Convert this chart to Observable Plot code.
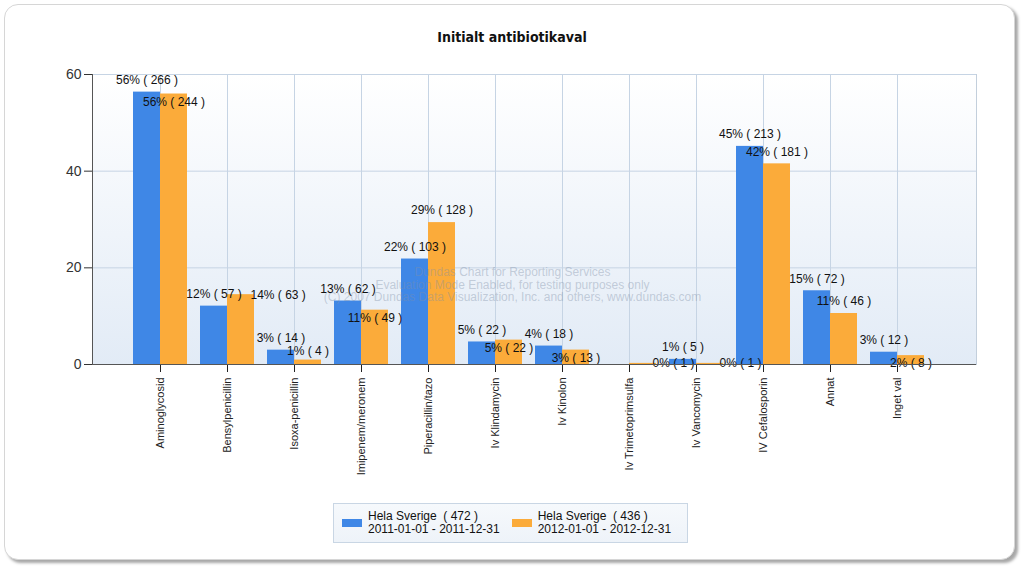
<!DOCTYPE html>
<html><head><meta charset="utf-8">
<script src="https://cdn.jsdelivr.net/npm/d3@7"></script>
<script src="https://cdn.jsdelivr.net/npm/@observablehq/plot@0.6"></script>
<style>
body{margin:0;background:#fff;font-family:"Liberation Sans",Arial,sans-serif;}
#card{position:absolute;left:4px;top:4px;width:1011px;height:556px;box-sizing:border-box;border:1px solid #d6d6d6;border-radius:14px;box-shadow:3px 3px 3px rgba(0,0,0,0.35);background:#fff;z-index:0}
#wrap{position:relative;z-index:1;width:1024px}
#title{height:60px;box-sizing:border-box;padding-top:28px;text-align:center;font:bold 14px "DejaVu Sans Condensed","DejaVu Sans",sans-serif;color:#111;line-height:18px}
#chart svg{display:block}
#legend{margin-left:333px;margin-top:3px;width:355px;height:40px;box-sizing:border-box;border:1px solid #c9d6e4;background:linear-gradient(#f6f9fc,#eef3f9);display:flex;align-items:center;font:12px "Liberation Sans",Arial,sans-serif;color:#111;line-height:13px}
.item{display:flex;align-items:center}
.sw{width:20px;height:8px;margin-right:6px}
</style>
</head><body>
<div id="card"></div>
<div id="wrap">
<div id="title"></div>
<div id="chart"></div>
<div id="legend"></div>
</div>
<script>
const titleText = "Initialt antibiotikaval";
const categories = ["Aminoglycosid","Bensylpenicillin","Isoxa-penicillin","Imipenem/meronem","Piperacillin/tazo","Iv Klindamycin","Iv Kinolon","Iv Trimetoprimsulfa","Iv Vancomycin","IV Cefalosporin","Annat","Inget val"];
const counts2011 = [266,57,14,62,103,22,18,0,5,213,72,12];
const counts2012 = [244,63,4,49,128,22,13,1,1,181,46,8];
const seriesTotals = [472,436];
const seriesNames = ["Hela Sverige  ( 472 )","Hela Sverige  ( 436 )"];
const seriesPeriods = ["2011-01-01 - 2011-12-31","2012-01-01 - 2012-12-31"];
const yTicks = [0,20,40,60];
const colors = ["#3f87e6","#fbab3a"];
const watermark = "Dundas Chart for Reporting Services\nEvaluation Mode Enabled, for testing purposes only\n(C) 2007 Dundas Data Visualization, Inc. and others, www.dundas.com";

document.getElementById("title").textContent = titleText;

const W=1024,H=440,mt=14,mb=136,ml=92,mr=48;
const pIn=0.198,pOut=0.661,align=0.44;
const ppu=(H-mt-mb)/60;
const step=(W-ml-mr)/(categories.length-pIn+2*pOut);
const bw=step*(1-pIn);
const halfBar=bw/4;

const rows=[];
categories.forEach((c,i)=>{
  [counts2011,counts2012].forEach((arr,s)=>{
    const n=arr[i], pct=n/seriesTotals[s]*100;
    rows.push({cat:c,i,s,n,pct,label:Math.round(pct)+"% ( "+n+" )"});
  });
});

// simple smart-label placement (pixel offsets relative to the baseline)
const charW=5.7, boxH=12.5;
const placed=[];
function box(cx,y,text,anchor){const w=text.length*charW;const x1=anchor==="start"?cx:cx-w/2;return {x1,x2:x1+w,y};}
function collides(b){return placed.some(p=>p.x1<b.x2&&b.x1<p.x2&&Math.abs(p.y-b.y)<boxH);}
rows.filter(r=>r.s===0&&r.n>0).forEach(r=>{
  r.mode="center"; r.ly=r.pct+12/ppu;
  placed.push(box(r.i*step-halfBar,-(r.pct*ppu)-12,r.label));
});
rows.filter(r=>r.s===1&&r.n>0).forEach(r=>{
  const top=-(r.pct*ppu), cx=r.i*step+halfBar;
  for(const off of [12,9]){
    const b=box(cx,top-off,r.label);
    if(!collides(b)){r.mode="center";r.ly=r.pct+off/ppu;placed.push(b);return;}
  }
  const b=box(cx,top+8,r.label);
  if(top+8<=1&&!collides(b)){r.mode="center";r.ly=r.pct-8/ppu;placed.push(b);return;}
  r.mode="side";r.ly=r.pct;placed.push(box(cx+halfBar-4,top,r.label,"start"));
});

const font='"Liberation Sans",Arial,sans-serif';
const plot=Plot.plot({
  width:W,height:H,marginTop:mt,marginBottom:mb,marginLeft:ml,marginRight:mr,
  style:{fontFamily:font,background:"transparent",overflow:"visible"},
  x:{type:"band",domain:categories,paddingInner:pIn,paddingOuter:pOut,align:align,label:null},
  y:{domain:[0,60],label:null},
  marks:[
    Plot.frame({fill:"#eef3f9",stroke:"#c3cfdc"}),
    Plot.gridY(yTicks.filter(d=>d>0),{stroke:"#c6d4e4",strokeOpacity:1}),
    Plot.gridX(categories,{stroke:"#c6d4e4",strokeOpacity:1}),
    Plot.barY(rows.filter(r=>r.s===0),{x:"cat",y:"pct",fill:colors[0],insetRight:bw/2}),
    Plot.barY(rows.filter(r=>r.s===1),{x:"cat",y:"pct",fill:colors[1],insetLeft:bw/2}),
    Plot.text([watermark],{frameAnchor:"middle",dx:-22,dy:65,fill:"#7f8fa6",fillOpacity:0.4,fontSize:12,lineHeight:1.04}),
    Plot.text(rows.filter(r=>r.s===0&&r.n>0),{x:"cat",y:"ly",text:"label",dx:-halfBar,fontSize:12,fill:"#111"}),
    Plot.text(rows.filter(r=>r.s===1&&r.mode==="center"),{x:"cat",y:"ly",text:"label",dx:halfBar,fontSize:12,fill:"#111"}),
    Plot.text(rows.filter(r=>r.s===1&&r.mode==="side"),{x:"cat",y:"ly",text:"label",dx:2*halfBar-4,textAnchor:"start",fontSize:12,fill:"#111"}),
    Plot.axisY(yTicks,{tickSize:8,tickPadding:3,fontSize:14,color:"#333",label:null}),
    Plot.axisX({tickRotate:-90,tickSize:8,tickPadding:5,fontSize:11,color:"#222",label:null}),
    Plot.ruleY([0],{stroke:"#555"}),
    Plot.frame({anchor:"left",stroke:"#555"})
  ]
});
document.getElementById("chart").appendChild(plot);

const svg=d3.select(plot);
const defs=svg.insert("defs",":first-child");
const g=defs.append("linearGradient").attr("id","bgGrad").attr("x1",0).attr("y1",0).attr("x2",0).attr("y2",1);
g.append("stop").attr("offset","0%").attr("stop-color","#ffffff");
g.append("stop").attr("offset","100%").attr("stop-color","#e2ebf6");
const fr=svg.select('[aria-label="frame"]');
fr.attr("fill","url(#bgGrad)");
fr.selectAll("rect").attr("fill","url(#bgGrad)");

const legend=d3.select("#legend");
seriesNames.forEach((nm,s)=>{
  const it=legend.append("div").attr("class","item").style("margin-left",s===0?"8px":"12px");
  it.append("div").attr("class","sw").style("background",colors[s]);
  const t=it.append("div");
  t.append("div").text(nm).style("white-space","pre");
  t.append("div").text(seriesPeriods[s]);
});
</script>
</body></html>
